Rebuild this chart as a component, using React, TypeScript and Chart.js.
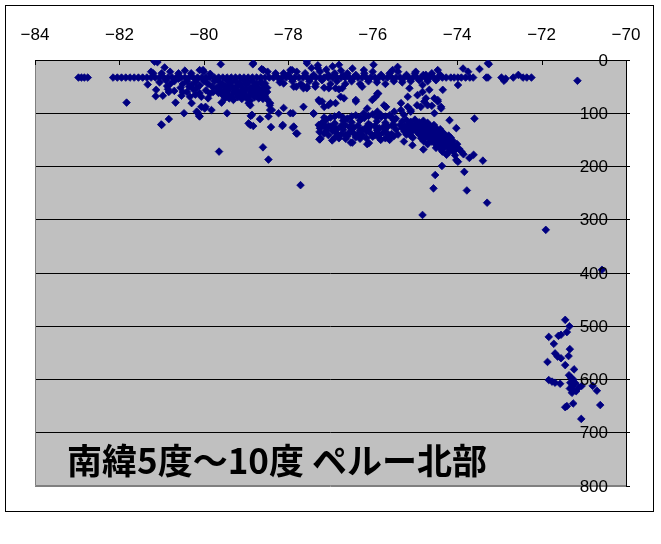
import React, { useEffect, useRef } from "react";
import { Chart, registerables } from "chart.js";

Chart.register(...registerables);

// Longitude ticks (top axis) and depth ticks (right axis)
const lonTicks = [-84, -82, -80, -78, -76, -74, -72, -70];
const depthTicks = [0, 100, 200, 300, 400, 500, 600, 700, 800];
const titleText = "南緯5度～10度 ペルー北部";

// Events fixed at 33 km depth (the dense shallow band), longitudes
const FIXED_DEPTH = 33;
const fixedDepthLons = [
  -82.97, -82.9, -82.83, -82.75,
  -82.15, -82.05, -81.95, -81.85, -81.75, -81.65, -81.55, -81.45, -81.35, -81.25,
  -81.15, -81.05, -80.95, -80.85, -80.75, -80.65, -80.55, -80.45, -80.35, -80.25,
  -80.15, -80.05, -79.95, -79.85, -79.75, -79.65, -79.55, -79.45, -79.35, -79.25,
  -79.15, -79.05, -78.95, -78.85, -78.75, -78.65, -78.55, -78.45, -78.35, -78.25,
  -78.15, -78.05, -77.95, -77.85, -77.75, -77.65, -77.55, -77.45, -77.35, -77.25,
  -77.15, -77.05, -76.95, -76.85, -76.75, -76.65, -76.55, -76.45, -76.35, -76.25,
  -76.15, -76.05, -75.95, -75.85, -75.75, -75.65, -75.55, -75.45, -75.35, -75.25,
  -75.15, -75.05, -74.95, -74.85, -74.75, -74.65, -74.55, -74.45, -74.35, -74.26,
  -74.15, -74.07, -73.98, -73.9, -73.8, -73.7, -73.62, -73.31, -73.27, -72.95,
  -72.67, -72.44, -72.35, -72.24,
];

// [longitude, depth km]
const westShallow: [number, number][] = [
  [-81.83, 80], [-81.33, 46], [-81.1, 4], [-80.93, 14], [-81.14, 68], [-81.0, 122],
  [-80.83, 111], [-80.67, 80], [-80.47, 100], [-80.53, 67], [-80.83, 60], [-80.87, 49],
  [-80.33, 69], [-80.17, 97], [-80.11, 105], [-79.96, 88], [-79.82, 94], [-79.6, 8],
  [-79.64, 172], [-79.45, 100], [-79.58, 80], [-81.17, 3], [-80.02, 19], [-81.13, 56],
  [-80.97, 67], [-80.1, 19], [-80.17, 53], [-80.06, 69], [-80.29, 81], [-80.06, 88],
  [-79.98, 91], [-80.14, 100], [-80.1, 106], [-79.78, 60], [-79.9, 72], [-81.01, 121],
  [-81.2, 25], [-81.05, 42], [-80.9, 38], [-80.8, 45], [-80.7, 40], [-80.6, 25],
  [-80.5, 45], [-80.4, 40], [-80.3, 47], [-80.2, 42], [-80.1, 48], [-80.0, 40],
  [-79.9, 45], [-79.8, 50], [-80.85, 55], [-80.7, 58], [-80.55, 52], [-80.4, 60],
  [-80.25, 55], [-80.1, 62], [-79.95, 57], [-79.85, 63], [-81.25, 22], [-81.0, 25],
  [-80.8, 22], [-80.45, 20], [-80.3, 25], [-80.0, 22], [-79.85, 26],
  [-80.6, 35], [-80.35, 50], [-80.15, 36], [-79.95, 35], [-80.5, 60], [-80.2, 65], [-79.75, 40],
];

const centralShallow: [number, number][] = [
  [-79.65, 40], [-79.55, 45], [-79.45, 38], [-79.35, 42], [-79.25, 40], [-79.15, 44],
  [-79.05, 39], [-78.95, 42], [-78.85, 40], [-78.75, 45], [-78.65, 41], [-78.55, 44],
  [-79.7, 52], [-79.6, 56], [-79.5, 50], [-79.4, 55], [-79.3, 52], [-79.2, 58],
  [-79.1, 51], [-79.0, 55], [-78.9, 52], [-78.8, 57], [-78.7, 53], [-78.6, 56],
  [-78.5, 52], [-79.65, 62], [-79.55, 66], [-79.45, 63], [-79.35, 68], [-79.25, 62],
  [-79.15, 66], [-79.05, 63], [-78.95, 68], [-78.85, 64], [-78.75, 67], [-78.65, 63],
  [-78.55, 68], [-79.5, 72], [-79.3, 75], [-79.1, 73], [-78.9, 76], [-78.7, 72],
  [-78.5, 74], [-78.84, 8], [-78.63, 17], [-78.49, 22], [-78.83, 6], [-78.59, 19],
  [-78.86, 103], [-78.83, 124], [-78.67, 111], [-78.6, 164], [-78.47, 187], [-78.41, 126],
  [-78.43, 94], [-78.43, 81], [-78.23, 100], [-78.14, 124], [-78.11, 90], [-77.89, 127],
  [-77.81, 138], [-77.89, 100], [-77.71, 235], [-77.64, 88], [-77.56, 6], [-77.4, 100],
  [-77.26, 78], [-77.26, 135], [-77.26, 149], [-77.12, 125], [-77.36, 50], [-77.56, 50],
  [-77.81, 50], [-77.91, 19], [-78.11, 25], [-78.11, 44], [-78.9, 122], [-78.9, 85],
  [-78.94, 81], [-78.89, 105], [-78.94, 119], [-78.44, 85], [-78.39, 94], [-78.47, 106],
  [-78.13, 122], [-77.87, 125], [-77.79, 138], [-77.64, 53], [-77.95, 100], [-77.28, 122],
  [-77.24, 147], [-77.95, 19],
  [-79.6, 47], [-79.4, 47], [-79.2, 48], [-79.0, 46], [-78.8, 48], [-78.6, 47],
  [-79.5, 59], [-79.3, 60], [-79.1, 58], [-78.9, 60], [-78.7, 59], [-78.5, 60],
  [-79.4, 72], [-79.2, 70], [-79.0, 71], [-78.8, 70], [-78.6, 73],
];

const eastShallow: [number, number][] = [
  [-78.3, 25], [-78.2, 42], [-78.0, 28], [-77.9, 40], [-77.8, 22], [-77.7, 45],
  [-77.6, 25], [-77.5, 40], [-77.45, 15], [-77.4, 28], [-77.35, 45], [-77.3, 10],
  [-77.25, 22], [-77.2, 38], [-77.15, 52], [-77.1, 18], [-77.05, 28], [-77.0, 45],
  [-76.95, 12], [-76.9, 25], [-76.85, 40], [-76.8, 55], [-76.75, 20], [-76.7, 30],
  [-76.65, 45], [-76.6, 25], [-76.5, 40], [-76.4, 28], [-76.3, 45], [-76.2, 25],
  [-76.1, 40], [-76.0, 22], [-75.9, 42], [-75.8, 28], [-75.7, 45], [-75.6, 25],
  [-75.5, 40], [-75.4, 22], [-75.3, 42], [-75.2, 28], [-75.1, 40], [-75.0, 25],
  [-74.9, 38], [-74.8, 28], [-74.7, 40], [-74.6, 25], [-74.5, 38], [-74.4, 28],
  [-76.48, 16], [-75.98, 9], [-75.53, 19], [-75.41, 13], [-74.98, 22], [-74.46, 19],
  [-73.86, 16], [-73.74, 22], [-73.27, 6], [-73.98, 47], [-76.8, 9], [-76.21, 19],
  [-74.74, 28], [-73.47, 17], [-73.25, 8], [-72.85, 35], [-72.89, 39], [-72.55, 28],
  [-74.34, 56], [-71.15, 39], [-77.56, 2], [-77.3, 15],
  [-77.87, 50], [-77.64, 50], [-77.56, 53], [-77.28, 75], [-77.2, 78], [-77.0, 81],
  [-76.88, 81], [-77.04, 53], [-76.72, 53], [-76.68, 72], [-76.4, 75], [-76.25, 50],
  [-75.93, 69], [-75.87, 63], [-75.69, 88], [-75.33, 81], [-75.13, 53], [-74.94, 66],
  [-74.82, 60], [-74.74, 72], [-74.54, 72], [-74.46, 78], [-74.38, 91], [-74.7, 85],
  [-75.1, 94], [-76.88, 53], [-76.76, 69], [-75.89, 63], [-76.01, 75], [-75.17, 69],
  [-74.82, 47], [-74.66, 56], [-74.95, 85], [-74.86, 88], [-74.46, 75], [-76.4, 78],
  [-75.69, 88], [-75.17, 88], [-74.78, 78], [-74.6, 86], [-74.38, 88], [-76.21, 100],
  [-75.81, 103], [-75.49, 97], [-75.1, 97], [-74.54, 100], [-75.73, 85], [-76.13, 91],
  [-75.89, 97], [-75.33, 94], [-75.26, 103], [-77.15, 88], [-77.05, 85],
];

const intermediateBand: [number, number][] = [
  [-77.0, 108], [-76.8, 103], [-76.6, 110], [-76.4, 104], [-76.2, 109], [-76.0, 102],
  [-75.8, 107], [-75.6, 104], [-75.45, 110],
  [-77.2, 118], [-77.1, 112], [-76.9, 119], [-76.7, 114], [-76.5, 117], [-76.3, 113],
  [-76.1, 120], [-75.9, 115], [-75.7, 118], [-75.5, 113],
  [-77.25, 128], [-77.05, 124], [-76.85, 130], [-76.65, 122], [-76.45, 127], [-76.25, 131],
  [-76.05, 123], [-75.85, 128], [-75.65, 125], [-75.45, 130],
  [-77.15, 138], [-76.95, 133], [-76.75, 140], [-76.55, 136], [-76.35, 139], [-76.15, 134],
  [-75.95, 141], [-75.75, 136], [-75.55, 139],
  [-76.9, 146], [-76.6, 143], [-76.3, 148], [-76.0, 144], [-75.7, 147], [-75.5, 143],
  [-77.25, 149], [-76.96, 151], [-76.52, 155], [-76.09, 156], [-75.81, 150], [-77.4, 101],
  [-76.64, 148], [-76.48, 155], [-76.13, 158], [-75.61, 147], [-77.24, 122], [-77.0, 125],
  [-77.15, 108], [-76.9, 106], [-76.7, 108], [-76.5, 106], [-76.3, 107], [-76.1, 105],
  [-75.9, 108], [-75.7, 106], [-75.55, 108],
  [-77.15, 123], [-76.95, 126], [-76.75, 124], [-76.55, 126], [-76.35, 123], [-76.15, 126],
  [-75.95, 124], [-75.75, 126], [-75.55, 123],
  [-77.05, 141], [-76.85, 138], [-76.65, 141], [-76.45, 138], [-76.25, 141], [-76.05, 138],
  [-75.85, 141], [-75.65, 138], [-75.4, 140],
  [-77.1, 132], [-76.9, 128], [-76.7, 131], [-76.5, 129], [-76.3, 132], [-76.1, 129],
  [-75.9, 132], [-75.7, 129], [-75.5, 122],
  [-76.8, 147], [-76.4, 145], [-76.15, 147], [-75.85, 146], [-75.6, 150],
];

const slabCluster: [number, number][] = [
  [-75.3, 115], [-75.2, 113], [-75.1, 116], [-75.0, 112], [-74.9, 117], [-74.8, 114], [-74.7, 118],
  [-75.35, 122], [-75.25, 124], [-75.15, 121], [-75.05, 123], [-74.95, 120], [-74.85, 124],
  [-74.75, 121], [-74.65, 123], [-74.55, 122],
  [-75.3, 128], [-75.2, 130], [-75.1, 127], [-75.0, 129], [-74.9, 128], [-74.8, 130],
  [-74.7, 127], [-74.6, 129], [-74.5, 128], [-74.4, 130],
  [-75.25, 134], [-75.15, 136], [-75.05, 133], [-74.95, 135], [-74.85, 134], [-74.75, 136],
  [-74.65, 133], [-74.55, 135], [-74.45, 134], [-74.35, 136],
  [-75.2, 140], [-75.1, 142], [-74.9, 140], [-74.8, 141], [-74.7, 139], [-74.6, 142],
  [-74.5, 140], [-74.4, 141], [-74.3, 139], [-74.2, 142],
  [-75.05, 146], [-74.85, 147], [-74.75, 145], [-74.65, 148], [-74.55, 146], [-74.45, 147],
  [-74.35, 145], [-74.25, 148], [-74.15, 146],
  [-74.8, 152], [-74.6, 153], [-74.5, 151], [-74.4, 153], [-74.3, 152], [-74.2, 154], [-74.1, 152],
  [-74.7, 158], [-74.5, 159], [-74.4, 157], [-74.3, 159], [-74.2, 158], [-74.1, 160], [-74.0, 158],
  [-74.5, 165], [-74.4, 166], [-74.3, 164], [-74.2, 166], [-74.05, 165], [-73.95, 167],
  [-74.35, 172], [-74.2, 173], [-74.1, 171], [-73.9, 172],
  [-74.25, 178], [-74.05, 179], [-73.85, 177],
  [-73.59, 110], [-73.39, 189], [-73.61, 178], [-73.83, 210], [-73.77, 245], [-73.29, 268],
  [-74.36, 199], [-74.52, 216], [-74.56, 241], [-74.82, 291], [-74.8, 168], [-75.06, 160],
  [-75.26, 153], [-73.98, 191], [-74.18, 113], [-74.02, 128], [-74.02, 188], [-73.71, 184],
  [-74.02, 167],
];

const deepCluster: [number, number][] = [
  [-71.9, 319], [-70.57, 394],
  [-71.44, 488], [-71.34, 500], [-71.4, 511], [-71.83, 520], [-71.6, 518], [-71.54, 516],
  [-71.71, 533], [-71.33, 543], [-71.68, 551], [-71.62, 557], [-71.54, 560], [-71.86, 567],
  [-71.44, 573], [-71.36, 556], [-71.23, 581], [-71.83, 601], [-71.75, 604], [-71.68, 606],
  [-71.56, 608], [-71.35, 592], [-71.3, 597], [-71.25, 600], [-71.32, 606], [-71.27, 612],
  [-71.2, 607], [-71.33, 617], [-71.25, 620], [-71.18, 622], [-71.12, 615], [-71.28, 625],
  [-71.05, 612], [-70.79, 612], [-70.69, 621], [-70.61, 648], [-71.4, 650], [-71.44, 652],
  [-71.25, 645], [-71.06, 674],
];

const PLOT_BG = "#C0C0C0";
const MARK = "#000080";
const AXIS_FONT = '17px "Liberation Sans", Arial, sans-serif';

export default function App() {
  const canvasRef = useRef<HTMLCanvasElement | null>(null);

  useEffect(() => {
    const canvas = canvasRef.current;
    if (!canvas) return;

    const points = [
      ...fixedDepthLons.map((lon) => ({ x: lon, y: FIXED_DEPTH })),
      ...[...westShallow, ...centralShallow, ...eastShallow, ...intermediateBand, ...slabCluster, ...deepCluster].map(
        ([x, y]) => ({ x, y })
      ),
    ];

    const framePlugin = {
      id: "frame",
      beforeDraw(chart: any) {
        const { ctx, chartArea } = chart;
        ctx.save();
        ctx.fillStyle = "#ffffff";
        ctx.fillRect(0, 0, chart.width, chart.height);
        ctx.strokeStyle = "#000000";
        ctx.lineWidth = 1;
        ctx.strokeRect(5.5, 5.5, 648, 506);
        ctx.fillStyle = PLOT_BG;
        ctx.fillRect(chartArea.left, chartArea.top, chartArea.right - chartArea.left, chartArea.bottom - chartArea.top);
        ctx.restore();
      },
      beforeDatasetsDraw(chart: any) {
        const { ctx, chartArea, scales } = chart;
        ctx.save();
        ctx.strokeStyle = "#808080";
        ctx.lineWidth = 1;
        ctx.beginPath();
        const l = Math.round(chartArea.left) + 0.5;
        const b = Math.round(chartArea.bottom) - 0.5;
        ctx.moveTo(l, Math.round(chartArea.top));
        ctx.lineTo(l, b);
        ctx.lineTo(Math.round(chartArea.right), b);
        ctx.stroke();
        ctx.strokeStyle = "#000000";
        ctx.beginPath();
        for (const t of scales.x.ticks) {
          const px = Math.round(scales.x.getPixelForValue(t.value)) + 0.5;
          ctx.moveTo(px, chartArea.top);
          ctx.lineTo(px, chartArea.top + 5);
        }
        ctx.stroke();
        ctx.restore();
      },
      afterDraw(chart: any) {
        const { ctx, chartArea, scales } = chart;
        ctx.save();
        // depth labels, drawn just inside the right axis
        ctx.fillStyle = "#000000";
        ctx.font = AXIS_FONT;
        ctx.textAlign = "right";
        ctx.textBaseline = "middle";
        for (const t of scales.y.ticks) {
          ctx.fillText(String(t.value), chartArea.right - 18, scales.y.getPixelForValue(t.value) + 1);
        }
        ctx.font = 'bold 35px "Noto Sans CJK JP"';
        ctx.textAlign = "center";
        ctx.fillText(titleText, 277, 461);
        ctx.restore();
      },
    };

    const chart = new Chart(canvas, {
      type: "scatter",
      data: {
        datasets: [
          {
            data: points,
            pointStyle: "rectRot",
            pointRadius: 3.8,
            pointBorderWidth: 0.8,
            backgroundColor: MARK,
            borderColor: MARK,
          },
        ],
      },
      options: {
        animation: false,
        responsive: false,
        layout: { padding: { left: 35, right: 0, top: 0, bottom: 58 } },
        plugins: { legend: { display: false }, tooltip: { enabled: false } },
        scales: {
          x: {
            type: "linear",
            position: "top",
            min: lonTicks[0],
            max: lonTicks[lonTicks.length - 1],
            afterBuildTicks: (scale: any) => {
              scale.ticks = lonTicks.map((v) => ({ value: v }));
            },
            afterFit: (scale: any) => {
              scale.height = 60;
            },
            grid: { display: false, drawTicks: false },
            border: { display: true, color: "#000000", width: 1 },
            ticks: {
              padding: 14,
              color: "#000000",
              font: { family: '"Liberation Sans", Arial, sans-serif', size: 17 },
              callback: (v: any) => String(v).replace("-", "\u2212"),
            },
          },
          y: {
            type: "linear",
            position: "right",
            reverse: true,
            min: depthTicks[0],
            max: depthTicks[depthTicks.length - 1],
            afterBuildTicks: (scale: any) => {
              scale.ticks = depthTicks.map((v) => ({ value: v }));
            },
            afterFit: (scale: any) => {
              scale.width = 35;
              scale.paddingTop = 0;
              scale.paddingBottom = 0;
            },
            grid: {
              display: true,
              drawOnChartArea: true,
              drawTicks: true,
              tickLength: 4,
              color: (c: any) => (c.tick && c.tick.value === 800 ? "#808080" : "#000000"),
              tickColor: "#000000",
              lineWidth: 1,
            },
            border: { display: true, color: "#000000", width: 1 },
            ticks: { display: false },
          },
        },
      },
      plugins: [framePlugin],
    });

    return () => chart.destroy();
  }, []);

  return (
    <div style={{ position: "fixed", left: 0, top: 0, width: 661, height: 544 }}>
      <canvas ref={canvasRef} width={661} height={544} style={{ display: "block" }} />
    </div>
  );
}
